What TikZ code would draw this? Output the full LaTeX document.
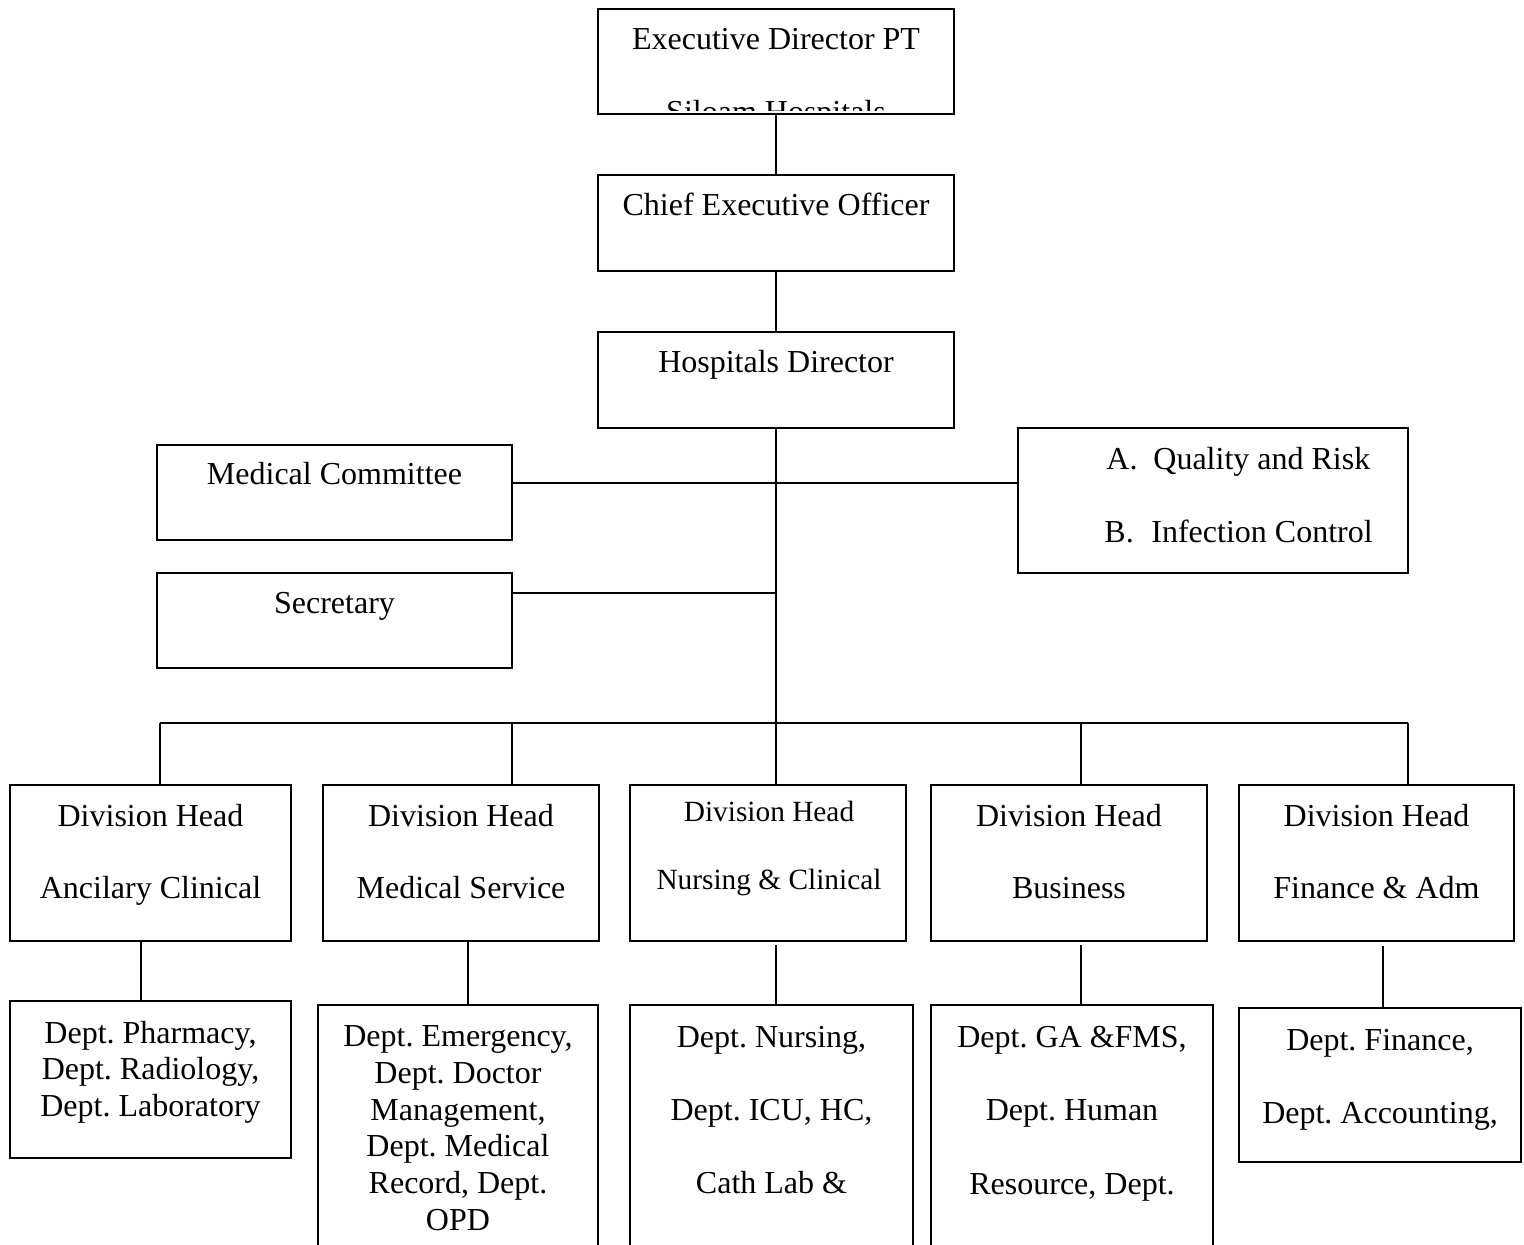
\documentclass[tikz,border=0pt]{standalone}
\usepackage{fontspec}
\setmainfont{Liberation Serif}
\frenchspacing
\usetikzlibrary{fit}
\tikzset{
  box/.style={draw, line width=1pt, inner sep=0pt},
  lbl/.style={anchor=base, inner sep=0pt, font=\fontsize{16}{18.4}\selectfont},
  lblw/.style={lbl, anchor=base west},
  lblsm/.style={lbl, font=\fontsize{14.67}{17}\selectfont},
  conn/.style={line width=1pt},
}
\begin{document}
\begin{tikzpicture}[x=0.5pt,y=-0.5pt]
\useasboundingbox (0,0) rectangle (1524,1245);
\clip (0,0) rectangle (1524,1245);
\fill[white] (0,0) rectangle (1524,1245);

% top chain
\node[box, fit={(598,9) (954,114)}] (exec) {};
\node[lbl] (exec-t1) at (776,50) {Executive Director PT};
\begin{scope}
  \clip (598,9) rectangle (954,111);
  \node[lbl] (exec-t2) at (776,123) {Siloam Hospitals};
\end{scope}

\node[box, fit={(598,175) (954,271)}] (ceo) {};
\node[lbl] (ceo-t) at (776,216) {Chief Executive Officer};

\node[box, fit={(598,332) (954,428)}] (hd) {};
\node[lbl] (hd-t) at (776,373) {Hospitals Director};

% staff boxes
\node[box, fit={(157,445) (512,540)}] (medcom) {};
\node[lbl] (medcom-t) at (334.5,485) {Medical Committee};

\node[box, fit={(1018,428) (1408,573)}] (qr) {};
\node[lblw] (qr-a) at (1106,469) {A.};
\node[lblw] (qr-at) at (1153,469) {Quality and Risk};
\node[lblw] (qr-b) at (1104,542) {B.};
\node[lblw] (qr-bt) at (1151,542) {Infection Control};

\node[box, fit={(157,573) (512,668)}] (sec) {};
\node[lbl] (sec-t) at (334.5,613) {Secretary};

% division heads
\node[box, fit={(10,785) (291,941)}] (div1) {};
\node[lbl] (div1-t1) at (150.5,826) {Division Head};
\node[lbl] (div1-t2) at (150.5,898) {Ancilary Clinical};

\node[box, fit={(323,785) (599,941)}] (div2) {};
\node[lbl] (div2-t1) at (461,826) {Division Head};
\node[lbl] (div2-t2) at (461,898) {Medical Service};

\node[box, fit={(630,785) (906,941)}] (div3) {};
\node[lblsm] (div3-t1) at (769,821) {Division Head};
\node[lblsm] (div3-t2) at (769,889) {Nursing \& Clinical};

\node[box, fit={(931,785) (1207,941)}] (div4) {};
\node[lbl] (div4-t1) at (1069,826) {Division Head};
\node[lbl] (div4-t2) at (1069,898) {Business};

\node[box, fit={(1239,785) (1514,941)}] (div5) {};
\node[lbl] (div5-t1) at (1376.5,826) {Division Head};
\node[lbl] (div5-t2) at (1376.5,898) {Finance \& Adm};

% departments
\node[box, fit={(10,1001) (291,1158)}] (dep1) {};
\node[lbl] (dep1-t1) at (150.5,1043) {Dept. Pharmacy,};
\node[lbl] (dep1-t2) at (150.5,1079) {Dept. Radiology,};
\node[lbl] (dep1-t3) at (150.5,1116) {Dept. Laboratory};

\node[box, fit={(318,1005) (598,1320)}] (dep2) {};
\node[lbl] (dep2-t1) at (458,1046) {Dept. Emergency,};
\node[lbl] (dep2-t2) at (458,1083) {Dept. Doctor};
\node[lbl] (dep2-t3) at (458,1120) {Management,};
\node[lbl] (dep2-t4) at (458,1156) {Dept. Medical};
\node[lbl] (dep2-t5) at (458,1193) {Record, Dept.};
\node[lbl] (dep2-t6) at (458,1230) {OPD};

\node[box, fit={(630,1005) (913,1320)}] (dep3) {};
\node[lbl] (dep3-t1) at (771.5,1047) {Dept. Nursing,};
\node[lbl] (dep3-t2) at (771.5,1120) {Dept. ICU, HC,};
\node[lbl] (dep3-t3) at (771.5,1193) {Cath Lab \&};

\node[box, fit={(931,1005) (1213,1320)}] (dep4) {};
\node[lbl] (dep4-t1) at (1072,1047) {Dept. GA \&FMS,};
\node[lbl] (dep4-t2) at (1072,1120) {Dept. Human};
\node[lbl] (dep4-t3) at (1072,1194) {Resource, Dept.};

\node[box, fit={(1239,1008) (1521,1162)}] (dep5) {};
\node[lbl] (dep5-t1) at (1380,1050) {Dept. Finance,};
\node[lbl] (dep5-t2) at (1380,1123) {Dept. Accounting,};

% connectors
\draw[conn] (exec) -- (ceo);
\draw[conn] (ceo) -- (hd);
\draw[conn] (hd.south) -- (hd.south |- div3.north);

\coordinate (jmc) at (776,483);
\coordinate (jsec) at (776,593);
\draw[conn] (medcom.east |- jmc) -- (qr.west |- jmc);
\draw[conn] (sec.east |- jsec) -- (jsec);

\coordinate (b1) at (160,723);
\coordinate (b2) at (512,723);
\coordinate (b4) at (1081,723);
\coordinate (b5) at (1408,723);
\draw[conn] (b1) -- (b5);
\draw[conn] (b1) -- (b1 |- div1.north);
\draw[conn] (b2) -- (b2 |- div2.north);
\draw[conn] (b4) -- (b4 |- div4.north);
\draw[conn] (b5) -- (b5 |- div5.north);

\coordinate (d1) at (141,941);
\coordinate (d2) at (468,941);
\coordinate (d3) at (776,945);
\coordinate (d4) at (1081,945);
\coordinate (d5) at (1383,946);
\draw[conn] (d1) -- (d1 |- dep1.north);
\draw[conn] (d2) -- (d2 |- dep2.north);
\draw[conn] (d3) -- (d3 |- dep3.north);
\draw[conn] (d4) -- (d4 |- dep4.north);
\draw[conn] (d5) -- (d5 |- dep5.north);
\end{tikzpicture}
\end{document}
